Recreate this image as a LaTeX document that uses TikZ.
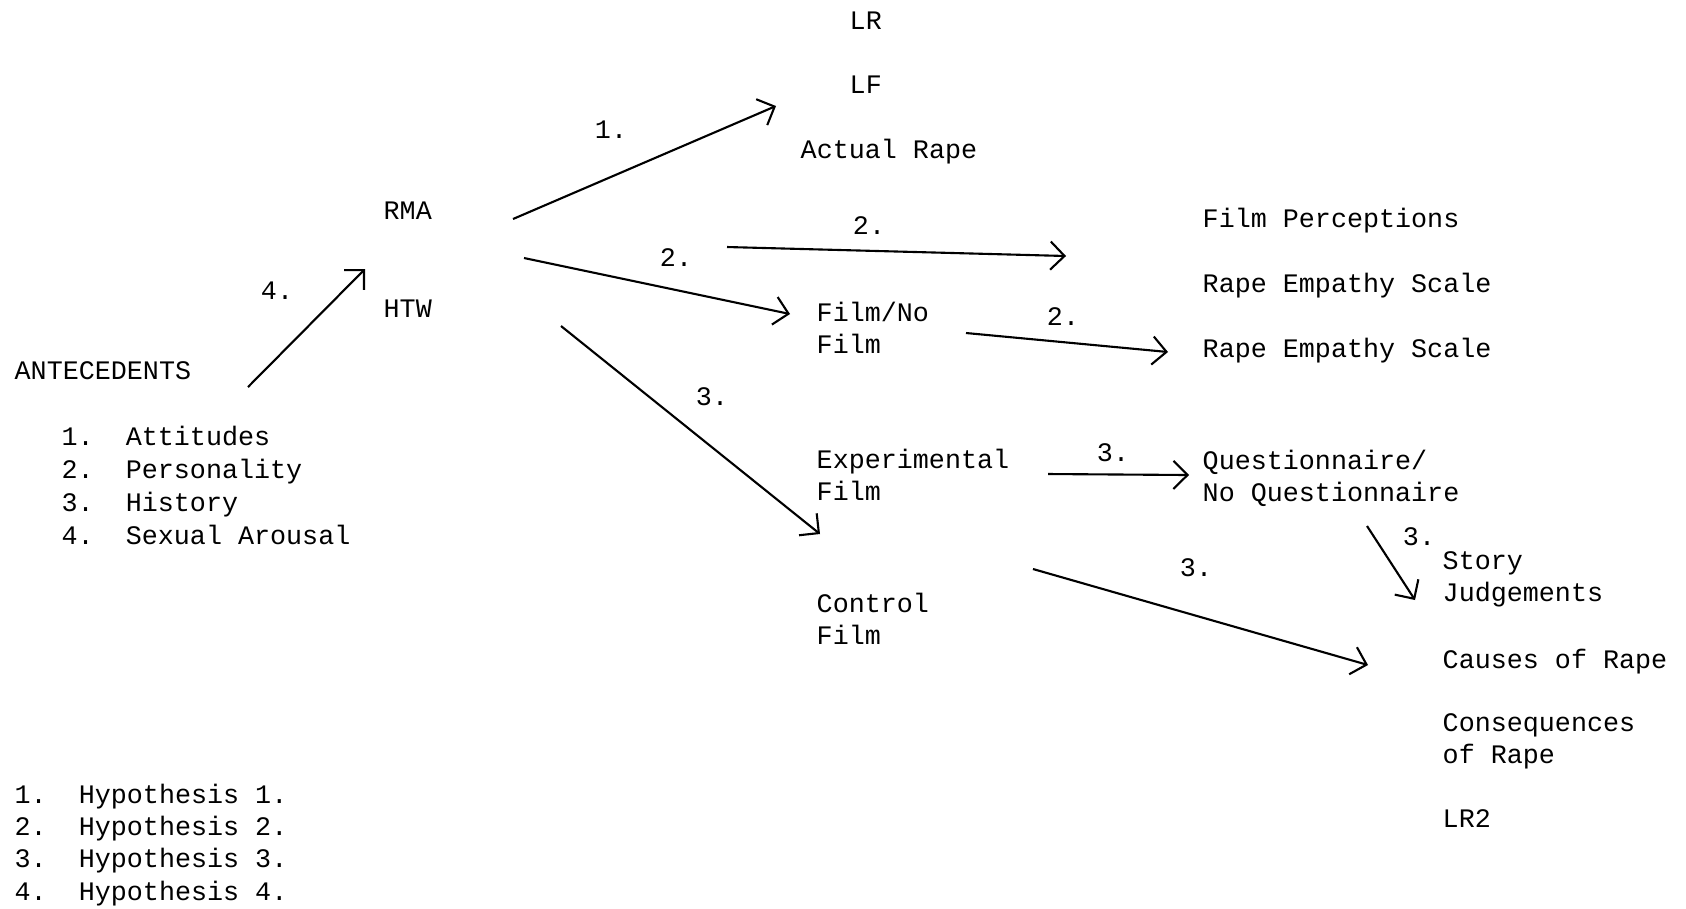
\documentclass[tikz,border=0pt]{standalone}
\usepackage{fontspec}
\setmainfont{Liberation Mono}
\usetikzlibrary{arrows.meta}
\tikzstyle{item}=[anchor=base west,inner sep=0pt,align=left]
\tikzstyle{edge}=[draw,line width=0.6pt,-{Straight Barb[length=4pt,width=8pt]}]
\tikzstyle{weight}=[inner sep=0pt]

\begin{document}
\begin{tikzpicture}[x=0.01cm,y=-0.01cm,font=\fontsize{7.6}{9.1}\selectfont]
    \useasboundingbox (0,0) rectangle (1686,908);
    % First the measures, one line each
    \foreach \pos/\name/\txt in {{(849,29)/lr/LR},{(849,93)/lf/LF},{(800,158)/actual/Actual Rape},
        {(383,219)/rma/RMA},{(383,317)/htw/HTW},{(14,379)/antec/ANTECEDENTS},
        {(1202,227)/filmperc/Film Perceptions},{(1202,292)/resa/Rape Empathy Scale},
        {(1202,357)/resb/Rape Empathy Scale},{(1442,668)/causes/Causes of Rape},{(1442,827)/lrtwo/LR2}}
        \node[item] (\name) at \pos {\txt};

    % the numbered lists
    \foreach \y/\n/\name/\txt in {445/1/att/Attitudes, 478/2/pers/Personality, 511/3/hist/History, 544/4/arous/Sexual Arousal}
        \node[item] (\name) at (61,\y) {\n.\ \ \txt};
    \foreach \y/\n in {803/1, 835/2, 867/3, 900/4}
        \node[item] (hyp\n) at (14,\y) {\n.\ \ Hypothesis \n.};

    % two-line measures (base = last line)
    \node[item] (film) at (816,353) {Film/No\\Film};
    \node[item] (expfilm) at (816,500) {Experimental\\Film};
    \node[item] (control) at (816,644) {Control\\Film};
    \node[item] (quest) at (1202,501) {Questionnaire/\\No Questionnaire};
    \node[item] (story) at (1442,601) {Story\\Judgements};
    \node[item] (conseq) at (1442,763) {Consequences\\of Rape};

    % arrow ends
    \foreach \x/\y/\name in {248/387/antout, 365/269/rmain, 513/219/rmaout, 776/106/lfin,
        524/258/rmafilm, 790/314/filmin, 727/247/topa, 1066/256/topb,
        966/333/filmout, 1168/352/resin, 561/326/htwout, 820/534/expin,
        1048/474/expout, 1189/475/questin, 1367/526/questout, 1415/600/storyin,
        1033/569/contout, 1368/665/causesin}
        \coordinate (\name) at (\x,\y);

    % Connect with arrows and put the hypothesis numbers
    \foreach \source/\dest/\weight/\lx/\ly in {antout/rmain/4/277/291, rmaout/lfin/1/611/130,
        rmafilm/filmin/2/676/258, topa/topb/2/869/226, filmout/resin/2/1063/317,
        htwout/expin/3/712/397, expout/questin/3/1113/453, questout/storyin/3/1419/537,
        contout/causesin/3/1196/568}
        \path[edge] (\source) -- (\dest) node[weight] at (\lx,\ly) {\weight.};
\end{tikzpicture}
\end{document}
